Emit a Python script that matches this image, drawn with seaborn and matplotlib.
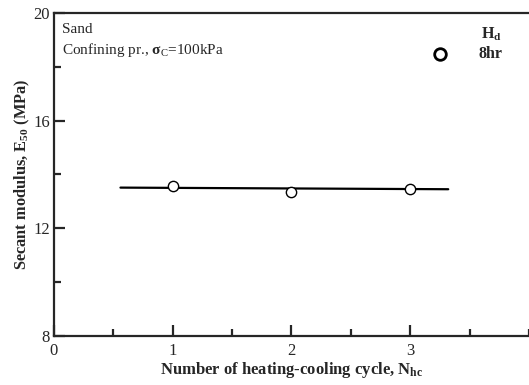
import matplotlib
matplotlib.use("Agg")
import matplotlib.pyplot as plt
import seaborn as sns
import pandas as pd
from matplotlib.ticker import MultipleLocator

# data
cycles = [1, 2, 3]
modulus = [13.57, 13.35, 13.47]
fit_x = [0.56, 3.32]
fit_y = [13.51, 13.45]

sns.set_style("ticks")
plt.rcParams['font.family'] = ['Liberation Serif', 'DejaVu Serif']
plt.rcParams['mathtext.fontset'] = 'custom'
plt.rcParams['mathtext.rm'] = 'Liberation Serif'
plt.rcParams['mathtext.bf'] = 'Liberation Serif:bold'
plt.rcParams['mathtext.it'] = 'Liberation Serif:italic'

fig = plt.figure(figsize=(5.29, 3.85), dpi=100)
ax = fig.add_axes([0.102, 0.127, 0.898, 0.840])

df = pd.DataFrame({"N": cycles, "E": modulus})
fit = pd.DataFrame({"x": fit_x, "y": fit_y})

sns.lineplot(data=fit, x="x", y="y", ax=ax, color="black", linewidth=1.6)
sns.scatterplot(data=df, x="N", y="E", ax=ax, marker="o", s=55,
                facecolor="white", edgecolor="black", linewidth=1.0, zorder=3)

ax.set_xlim(0, 4)
ax.set_ylim(8, 20)
ax.xaxis.set_major_locator(MultipleLocator(1))
ax.xaxis.set_minor_locator(MultipleLocator(0.5))
ax.yaxis.set_major_locator(MultipleLocator(4))
ax.yaxis.set_minor_locator(MultipleLocator(2))
ax.set_xticks([0, 1, 2, 3])
ax.set_xticklabels(["0", "1", "2", "3"])
ax.tick_params(axis='both', which='major', direction='in', length=8, width=1.6,
               labelsize=12, pad=3)
ax.tick_params(axis='both', which='minor', direction='in', length=5, width=1.6)
ax.tick_params(axis='x', which='major', pad=5)

for s in ["left", "bottom", "top"]:
    ax.spines[s].set_linewidth(1.6)
ax.spines["right"].set_visible(False)

ax.set_xlabel("Number of heating-cooling cycle, N$_{\\mathbf{hc}}$",
              fontsize=12, fontweight="bold", labelpad=1)
ax.set_ylabel("Secant modulus, E$_{\\mathbf{50}}$ (MPa)",
              fontsize=11.8, fontweight="bold", labelpad=1)

ax.text(0.07, 19.36, "Sand", fontsize=11, va="center", ha="left")
ax.text(0.07, 18.61, "Confining pr., $\\mathbf{\\sigma}_{\\mathrm{C}}$=100kPa",
        fontsize=11, va="center", ha="left")

# legend
ax.scatter([3.25], [18.45], marker="o", s=70, facecolor="white",
           edgecolor="black", linewidth=2.0, zorder=4, clip_on=False)
ax.text(3.68, 19.2, "H$_{\\mathbf{d}}$", fontsize=11.5, fontweight="bold",
        ha="center", va="center")
ax.text(3.68, 18.45, "8hr", fontsize=11.5, fontweight="bold",
        ha="center", va="center")

fig.savefig("out.png", dpi=100)
